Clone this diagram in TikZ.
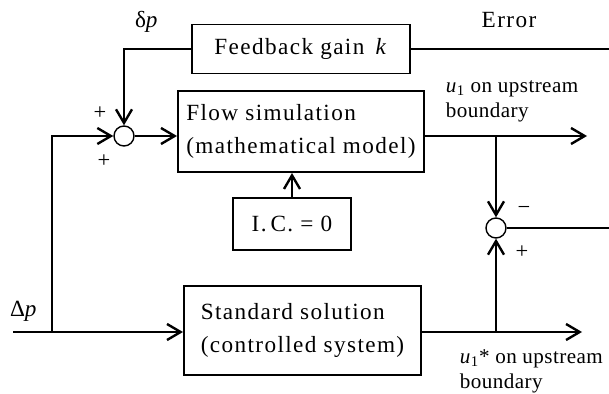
\documentclass[tikz,border=0pt]{standalone}
\usepackage{fontspec}
\setmainfont{Liberation Serif}[LetterSpace=6]
\usepackage{tikz}
\usetikzlibrary{arrows.meta}

\newcommand{\boxfont}{\fontsize{16.5}{23.5}\selectfont}
\newcommand{\labfont}{\fontsize{15}{17.5}\selectfont\addfontfeatures{LetterSpace=2}}

\begin{document}
\begin{tikzpicture}[x=0.025cm, y=-0.025cm, line width=1.4pt,
    block/.style={draw, inner sep=0pt, font=\boxfont},
    junction/.style={draw, circle, minimum size=0.5cm, inner sep=0pt, line width=1pt},
    sign/.style={font=\fontsize{16}{16}\selectfont, inner sep=0pt},
    lbl/.style={font=\labfont, align=left, inner sep=0pt},
    >={Straight Barb[length=3.4mm, width=4mm, line width=1.7pt]}]
    \useasboundingbox (0,0) rectangle (609,393);

    % Blocks
    \node[block, minimum width=5.45cm, minimum height=1.225cm] (gain) at (301,49) {Feedback gain \,\textit{k}};
    \node[block, minimum width=6.15cm, minimum height=2.025cm, align=left] (flow) at (301,131.5) {Flow simulation\\(mathematical model)};
    \node[block, minimum width=2.95cm, minimum height=1.3cm] (ic) at (292,224) {I.\,C. = 0};
    \node[block, minimum width=5.925cm, minimum height=2.225cm, align=left] (std) at (302.5,330.5) {Standard solution\\(controlled system)};

    % Summing points
    \node[junction] (sum1) at (124,136) {};
    \node[junction] (sum2) at (496,228) {};

    % Ends of the lines
    \coordinate (in) at (13,332);
    \coordinate (split) at (52,332);
    \coordinate (out1) at (587,136);
    \coordinate (out2) at (582,332);
    \coordinate (errend) at (609,49);
    \coordinate (diffend) at (609,228);

    % Input and feedback
    \draw[->] (in) -- (in -| std.west);
    \draw[->] (split) |- (sum1);
    \draw[->] (gain.west) -| (sum1);
    \draw[->] (sum1) -- (sum1 -| flow.west);
    \draw[->] (ic.north) -- (ic.north |- flow.south);
    \draw (gain.east) -- (errend);

    % Outputs and comparison
    \draw[->] (sum1 -| flow.east) -- (out1);
    \draw[->] (in -| std.east) -- (out2);
    \draw[->] (sum2 |- out1) -- (sum2);
    \draw[->] (sum2 |- out2) -- (sum2);
    \draw (sum2) -- (diffend);

    % Labels
    \node[font=\boxfont] (dp) at (147,22) {δ\textit{p}};
    \node[font=\boxfont] (Dp) at (24,311) {Δ\textit{p}};
    \node[font=\boxfont] (err) at (509,20) {Error};
    \node[lbl, anchor=north west] (u1) at (445,80) {\textit{u}\textsubscript{1} on upstream\\boundary};
    \node[lbl, anchor=north west] (u1s) at (459,349) {\textit{u}\textsubscript{1}* on upstream\\boundary};
    \node[sign] at (100,113) {+};
    \node[sign] at (104,161) {+};
    \node[sign] at (524,210) {−};
    \node[sign] at (522,252) {+};
\end{tikzpicture}
\end{document}
